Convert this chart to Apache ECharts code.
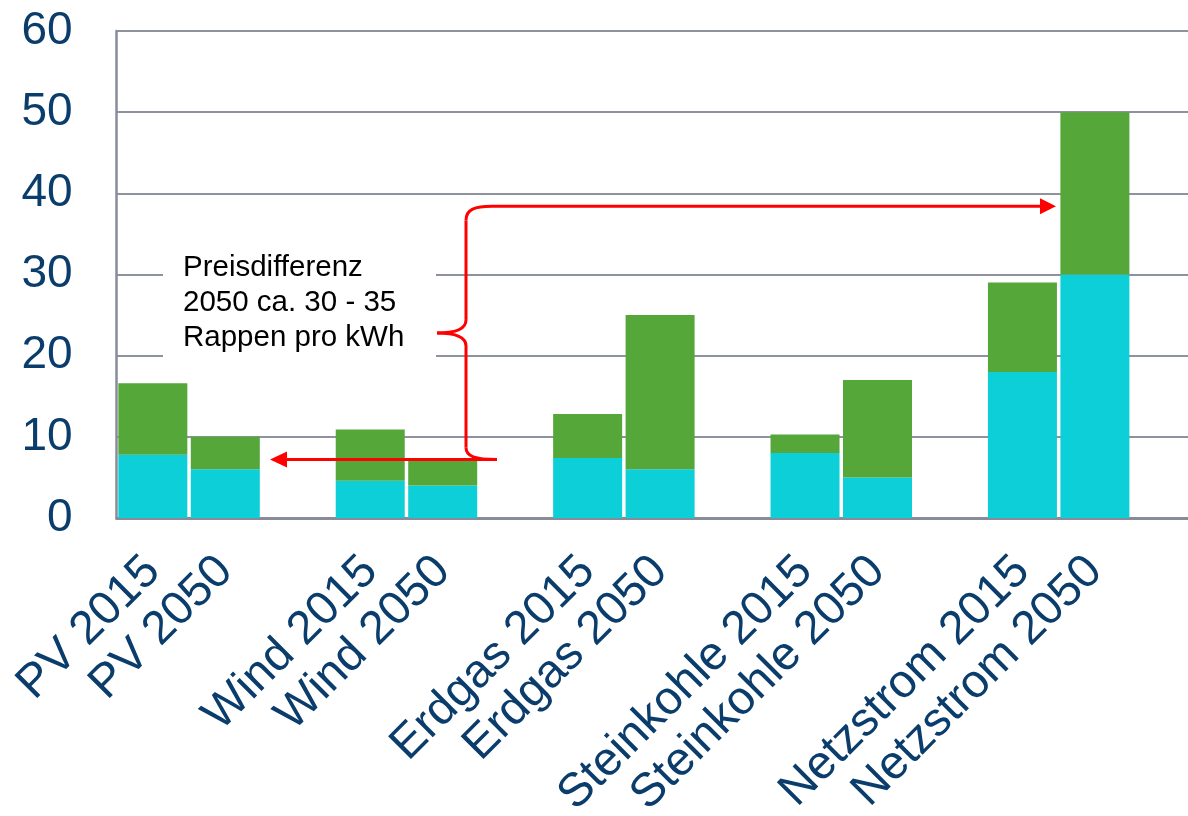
<!DOCTYPE html>
<html>
<head>
<meta charset="utf-8">
<script src="https://cdn.jsdelivr.net/npm/echarts@6/dist/echarts.min.js"></script>
<style>
html,body{margin:0;padding:0;background:#fff;overflow:hidden;width:1188px;height:816px;}
#chart{width:1206px;height:816px;}
</style>
</head>
<body>
<div id="chart"></div>
<script>
const categories = ['PV 2015','PV 2050','','Wind 2015','Wind 2050','','Erdgas 2015','Erdgas 2050','','Steinkohle 2015','Steinkohle 2050','','Netzstrom 2015','Netzstrom 2050',''];
const baseValues = [7.8, 6.0, null, 4.6, 4.0, null, 7.4, 6.0, null, 8.0, 5.0, null, 18.0, 30.0, null];
const upperValues = [8.8, 4.0, null, 6.3, 3.3, null, 5.4, 19.0, null, 2.3, 12.0, null, 11.0, 20.0, null];
const yTicks = [0, 10, 20, 30, 40, 50, 60];
const noteLines = ['Preisdifferenz', '2050 ca. 30 - 35', 'Rappen pro kWh'];

const FONT = '"Liberation Sans", Arial, Helvetica, sans-serif';
const NAVY = '#0A3D6B';
const chart = echarts.init(document.getElementById('chart'), null, {renderer: 'canvas'});

const option = {
  backgroundColor: '#ffffff',
  animation: false,
  grid: {left: 116.6, top: 31, width: 1087, bottom: 298, containLabel: false, outerBoundsMode: 'none'},
  xAxis: {
    type: 'category',
    data: categories,
    axisLine: {show: true, lineStyle: {color: '#888C99', width: 3}},
    axisTick: {show: false},
    axisLabel: {
      interval: 0, rotate: 45, margin: 46,
      color: NAVY, fontSize: 47, fontFamily: FONT
    },
    splitLine: {show: false}
  },
  yAxis: {
    type: 'value',
    min: yTicks[0], max: yTicks[yTicks.length - 1], interval: 10,
    axisLine: {show: true, lineStyle: {color: '#888C99', width: 2.5}},
    axisTick: {show: false},
    axisLabel: {margin: 44, color: NAVY, fontSize: 46, fontFamily: FONT},
    splitLine: {show: true, lineStyle: {color: '#8E929F', width: 2}}
  },
  series: [
    {
      type: 'bar', stack: 'total', data: baseValues,
      barWidth: 69,
      itemStyle: {color: '#0DCFD8'}
    },
    {
      type: 'bar', stack: 'total', data: upperValues,
      barWidth: 69,
      itemStyle: {color: '#55A73A'}
    }
  ]
};
chart.setOption(option);

// Annotation (text box, brace, arrows)
const red = '#FF0000';
const yTop = chart.convertToPixel({yAxisIndex: 0}, 38.4);
const yBot = chart.convertToPixel({yAxisIndex: 0}, 7.2);
const yMid = (yTop + yBot) / 2;
const bx = 466, px = 437, ex = 497;
const ls = {stroke: red, lineWidth: 3, fill: null};
function bez(x1, y1, c1x, c1y, c2x, c2y, x2, y2) {
  return {type: 'bezierCurve', z: 52, shape: {x1: x1, y1: y1, cpx1: c1x, cpy1: c1y, cpx2: c2x, cpy2: c2y, x2: x2, y2: y2}, style: ls};
}
function seg(x1, y1, x2, y2) {
  return {type: 'line', z: 52, shape: {x1: x1, y1: y1, x2: x2, y2: y2}, style: ls};
}

chart.setOption({
  graphic: [
    {type: 'rect', z: 50, shape: {x: 163, y: 240, width: 273, height: 126}, style: {fill: '#ffffff'}},
    {type: 'text', z: 51, x: 183, y: 250,
      style: {text: noteLines.join('\n'), font: '29.5px ' + FONT, fill: '#000000', lineHeight: 35, textVerticalAlign: 'top'}},
    bez(ex - 5, yTop, 475, yTop, bx, yTop + 3, bx, yTop + 14),
    seg(bx, yTop + 14, bx, yMid - 13),
    bez(bx, yMid - 13, bx, yMid - 4, 455, yMid, px, yMid),
    bez(px, yMid, 455, yMid, bx, yMid + 4, bx, yMid + 13),
    seg(bx, yMid + 13, bx, yBot - 12),
    bez(bx, yBot - 12, bx, yBot - 3, 475, yBot, ex, yBot),
    seg(ex - 5, yTop, 1042, yTop),
    {type: 'polygon', z: 52, shape: {points: [[1056, yTop], [1040, yTop - 8], [1040, yTop + 8]]}, style: {fill: red}},
    seg(ex, yBot, 285, yBot),
    {type: 'polygon', z: 52, shape: {points: [[270, yBot], [287, yBot - 8], [287, yBot + 8]]}, style: {fill: red}}
  ]
});
</script>
</body>
</html>
